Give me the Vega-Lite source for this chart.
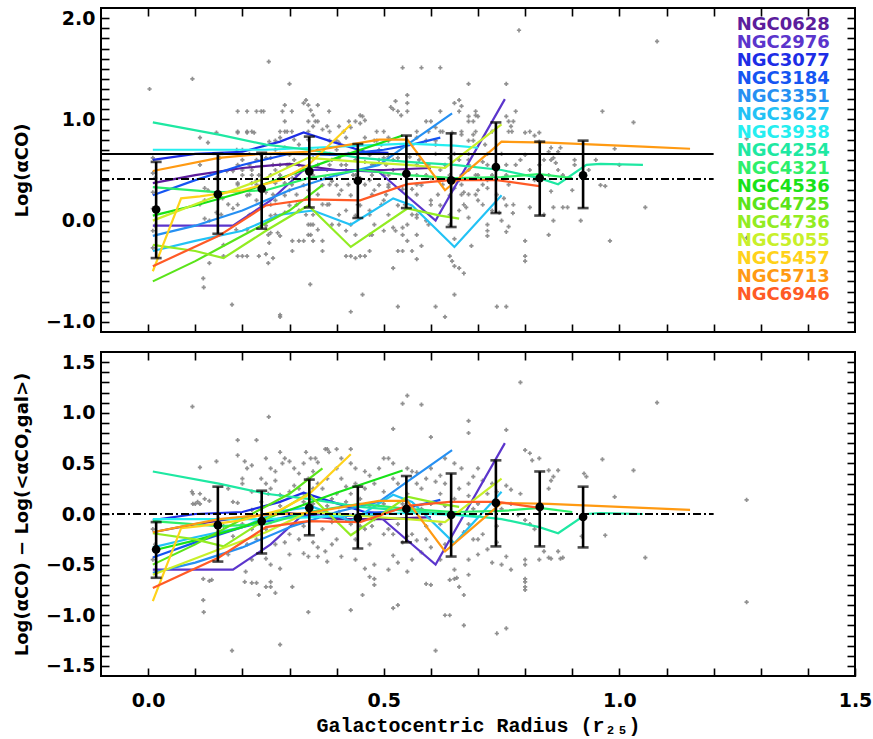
{
"$schema":"https://vega.github.io/schema/vega-lite/v6.json",
"background":"white",
"padding":{"left":12,"top":6,"right":5,"bottom":2},
"config":{"view":{"stroke":"black","strokeWidth":2},
 "axis":{"domain":false,"tickColor":"black","tickWidth":1.6,"ticks":true,"tickSize":8,"offset":-8,"grid":false,"labelFont":"DejaVu Sans","labelFontWeight":"bold","labelFontSize":19,"labelColor":"black","titleFont":"DejaVu Sans","titleFontWeight":"bold","titleFontSize":18,"titleColor":"black","labelOverlap":false,"labelFlush":false,"labelBound":false}},
"spacing":16,
"datasets":{
"names":[{"g":"NGC0628"},{"g":"NGC2976"},{"g":"NGC3077"},{"g":"NGC3184"},{"g":"NGC3351"},{"g":"NGC3627"},{"g":"NGC3938"},{"g":"NGC4254"},{"g":"NGC4321"},{"g":"NGC4536"},{"g":"NGC4725"},{"g":"NGC4736"},{"g":"NGC5055"},{"g":"NGC5457"},{"g":"NGC5713"},{"g":"NGC6946"}],
"binsT":[{"r":0.017,"m":0.11,"lo":-0.37,"hi":0.58},{"r":0.148,"m":0.26,"lo":-0.13,"hi":0.66},{"r":0.241,"m":0.315,"lo":-0.08,"hi":0.67},{"r":0.342,"m":0.487,"lo":0.13,"hi":0.83},{"r":0.445,"m":0.394,"lo":0.026,"hi":0.757},{"r":0.548,"m":0.463,"lo":0.124,"hi":0.84},{"r":0.643,"m":0.398,"lo":-0.063,"hi":0.862},{"r":0.738,"m":0.53,"lo":0.075,"hi":0.97},{"r":0.831,"m":0.42,"lo":0.05,"hi":0.78},{"r":0.923,"m":0.447,"lo":0.124,"hi":0.79}],
"binsB":[{"r":0.017,"m":-0.35,"lo":-0.63,"hi":-0.08},{"r":0.148,"m":-0.11,"lo":-0.47,"hi":0.27},{"r":0.241,"m":-0.07,"lo":-0.39,"hi":0.23},{"r":0.342,"m":0.06,"lo":-0.21,"hi":0.34},{"r":0.445,"m":-0.04,"lo":-0.34,"hi":0.27},{"r":0.548,"m":0.05,"lo":-0.28,"hi":0.375},{"r":0.643,"m":-0.01,"lo":-0.42,"hi":0.4},{"r":0.738,"m":0.11,"lo":-0.32,"hi":0.53},{"r":0.831,"m":0.07,"lo":-0.32,"hi":0.42},{"r":0.923,"m":-0.03,"lo":-0.33,"hi":0.27}],
"linT":[
{"g":"NGC0628","r":0.01,"v":0.37},{"g":"NGC0628","r":0.1,"v":0.45},{"g":"NGC0628","r":0.2,"v":0.52},{"g":"NGC0628","r":0.3,"v":0.56},{"g":"NGC0628","r":0.4,"v":0.5},{"g":"NGC0628","r":0.5,"v":0.5},{"g":"NGC0628","r":0.6,"v":0.52},
{"g":"NGC2976","r":0.01,"v":-0.05},{"g":"NGC2976","r":0.1,"v":-0.05},{"g":"NGC2976","r":0.18,"v":-0.05},{"g":"NGC2976","r":0.26,"v":0.2},{"g":"NGC2976","r":0.33,"v":0.5},{"g":"NGC2976","r":0.41,"v":0.5},{"g":"NGC2976","r":0.49,"v":0.48},{"g":"NGC2976","r":0.61,"v":0.0},{"g":"NGC2976","r":0.757,"v":1.2},
{"g":"NGC3077","r":0.01,"v":0.6},{"g":"NGC3077","r":0.1,"v":0.66},{"g":"NGC3077","r":0.2,"v":0.68},{"g":"NGC3077","r":0.28,"v":0.78},{"g":"NGC3077","r":0.33,"v":0.87},{"g":"NGC3077","r":0.39,"v":0.78},{"g":"NGC3077","r":0.46,"v":0.68},{"g":"NGC3077","r":0.51,"v":0.67},
{"g":"NGC3184","r":0.01,"v":0.25},{"g":"NGC3184","r":0.1,"v":0.4},{"g":"NGC3184","r":0.2,"v":0.55},{"g":"NGC3184","r":0.3,"v":0.66},{"g":"NGC3184","r":0.4,"v":0.65},{"g":"NGC3184","r":0.5,"v":0.7},{"g":"NGC3184","r":0.56,"v":0.75},{"g":"NGC3184","r":0.62,"v":0.82},
{"g":"NGC3351","r":0.01,"v":-0.15},{"g":"NGC3351","r":0.1,"v":-0.05},{"g":"NGC3351","r":0.2,"v":0.1},{"g":"NGC3351","r":0.3,"v":0.3},{"g":"NGC3351","r":0.4,"v":0.45},{"g":"NGC3351","r":0.49,"v":0.55},{"g":"NGC3351","r":0.55,"v":0.75},{"g":"NGC3351","r":0.645,"v":1.06},
{"g":"NGC3627","r":0.01,"v":-0.3},{"g":"NGC3627","r":0.1,"v":-0.2},{"g":"NGC3627","r":0.2,"v":-0.1},{"g":"NGC3627","r":0.28,"v":0.06},{"g":"NGC3627","r":0.35,"v":0.1},{"g":"NGC3627","r":0.43,"v":-0.04},{"g":"NGC3627","r":0.52,"v":0.22},{"g":"NGC3627","r":0.56,"v":0.15},{"g":"NGC3627","r":0.65,"v":-0.26},{"g":"NGC3627","r":0.75,"v":0.25},
{"g":"NGC3938","r":0.01,"v":0.7},{"g":"NGC3938","r":0.15,"v":0.7},{"g":"NGC3938","r":0.25,"v":0.7},{"g":"NGC3938","r":0.35,"v":0.72},{"g":"NGC3938","r":0.45,"v":0.74},{"g":"NGC3938","r":0.55,"v":0.76},{"g":"NGC3938","r":0.65,"v":0.74},{"g":"NGC3938","r":0.7,"v":0.72},
{"g":"NGC4254","r":0.01,"v":0.97},{"g":"NGC4254","r":0.15,"v":0.85},{"g":"NGC4254","r":0.25,"v":0.75},{"g":"NGC4254","r":0.34,"v":0.7},{"g":"NGC4254","r":0.45,"v":0.62},{"g":"NGC4254","r":0.55,"v":0.58},{"g":"NGC4254","r":0.65,"v":0.55},{"g":"NGC4254","r":0.75,"v":0.5},{"g":"NGC4254","r":0.83,"v":0.42},{"g":"NGC4254","r":0.87,"v":0.36},{"g":"NGC4254","r":0.93,"v":0.55},{"g":"NGC4254","r":0.96,"v":0.56},{"g":"NGC4254","r":1.05,"v":0.55},
{"g":"NGC4321","r":0.01,"v":0.33},{"g":"NGC4321","r":0.15,"v":0.28},{"g":"NGC4321","r":0.25,"v":0.3},{"g":"NGC4321","r":0.34,"v":0.42},{"g":"NGC4321","r":0.45,"v":0.5},{"g":"NGC4321","r":0.55,"v":0.45},{"g":"NGC4321","r":0.65,"v":0.42},{"g":"NGC4321","r":0.75,"v":0.43},{"g":"NGC4321","r":0.83,"v":0.46},{"g":"NGC4321","r":0.9,"v":0.42},
{"g":"NGC4536","r":0.01,"v":0.05},{"g":"NGC4536","r":0.1,"v":0.15},{"g":"NGC4536","r":0.2,"v":0.28},{"g":"NGC4536","r":0.3,"v":0.45},{"g":"NGC4536","r":0.4,"v":0.62},{"g":"NGC4536","r":0.54,"v":0.84},
{"g":"NGC4725","r":0.01,"v":-0.6},{"g":"NGC4725","r":0.1,"v":-0.4},{"g":"NGC4725","r":0.2,"v":-0.15},{"g":"NGC4725","r":0.3,"v":0.1},{"g":"NGC4725","r":0.37,"v":0.35},
{"g":"NGC4736","r":0.01,"v":-0.24},{"g":"NGC4736","r":0.1,"v":-0.3},{"g":"NGC4736","r":0.16,"v":-0.37},{"g":"NGC4736","r":0.25,"v":-0.1},{"g":"NGC4736","r":0.34,"v":0.15},{"g":"NGC4736","r":0.43,"v":-0.26},{"g":"NGC4736","r":0.55,"v":0.12},{"g":"NGC4736","r":0.62,"v":0.05},{"g":"NGC4736","r":0.66,"v":0.02},
{"g":"NGC5055","r":0.01,"v":0.0},{"g":"NGC5055","r":0.15,"v":0.25},{"g":"NGC5055","r":0.25,"v":0.42},{"g":"NGC5055","r":0.34,"v":0.62},{"g":"NGC5055","r":0.45,"v":0.58},{"g":"NGC5055","r":0.55,"v":0.55},{"g":"NGC5055","r":0.63,"v":0.52},{"g":"NGC5055","r":0.75,"v":0.95},
{"g":"NGC5457","r":0.01,"v":-0.5},{"g":"NGC5457","r":0.07,"v":0.22},{"g":"NGC5457","r":0.11,"v":0.24},{"g":"NGC5457","r":0.2,"v":0.3},{"g":"NGC5457","r":0.28,"v":0.4},{"g":"NGC5457","r":0.34,"v":0.55},{"g":"NGC5457","r":0.43,"v":0.95},
{"g":"NGC5713","r":0.01,"v":0.49},{"g":"NGC5713","r":0.15,"v":0.62},{"g":"NGC5713","r":0.24,"v":0.66},{"g":"NGC5713","r":0.34,"v":0.68},{"g":"NGC5713","r":0.44,"v":0.76},{"g":"NGC5713","r":0.49,"v":0.8},{"g":"NGC5713","r":0.55,"v":0.8},{"g":"NGC5713","r":0.63,"v":0.3},{"g":"NGC5713","r":0.7,"v":0.58},{"g":"NGC5713","r":0.75,"v":0.78},{"g":"NGC5713","r":0.85,"v":0.77},{"g":"NGC5713","r":0.95,"v":0.75},{"g":"NGC5713","r":1.05,"v":0.73},{"g":"NGC5713","r":1.15,"v":0.71},
{"g":"NGC6946","r":0.01,"v":-0.45},{"g":"NGC6946","r":0.15,"v":-0.15},{"g":"NGC6946","r":0.25,"v":0.15},{"g":"NGC6946","r":0.34,"v":0.21},{"g":"NGC6946","r":0.45,"v":0.2},{"g":"NGC6946","r":0.55,"v":0.36},{"g":"NGC6946","r":0.64,"v":0.4},{"g":"NGC6946","r":0.74,"v":0.4},{"g":"NGC6946","r":0.83,"v":0.34}],
"linB":[
{"g":"NGC0628","r":0.01,"v":-0.18},{"g":"NGC0628","r":0.1,"v":-0.1},{"g":"NGC0628","r":0.2,"v":-0.03},{"g":"NGC0628","r":0.3,"v":0.01},{"g":"NGC0628","r":0.4,"v":-0.05},{"g":"NGC0628","r":0.5,"v":-0.05},{"g":"NGC0628","r":0.6,"v":-0.03},
{"g":"NGC2976","r":0.01,"v":-0.55},{"g":"NGC2976","r":0.1,"v":-0.55},{"g":"NGC2976","r":0.18,"v":-0.55},{"g":"NGC2976","r":0.26,"v":-0.3},{"g":"NGC2976","r":0.33,"v":0.0},{"g":"NGC2976","r":0.41,"v":0.0},{"g":"NGC2976","r":0.49,"v":-0.02},{"g":"NGC2976","r":0.61,"v":-0.5},{"g":"NGC2976","r":0.757,"v":0.7},
{"g":"NGC3077","r":0.01,"v":-0.06},{"g":"NGC3077","r":0.1,"v":0.0},{"g":"NGC3077","r":0.2,"v":0.02},{"g":"NGC3077","r":0.28,"v":0.12},{"g":"NGC3077","r":0.33,"v":0.21},{"g":"NGC3077","r":0.39,"v":0.12},{"g":"NGC3077","r":0.46,"v":0.02},{"g":"NGC3077","r":0.51,"v":0.01},
{"g":"NGC3184","r":0.01,"v":-0.43},{"g":"NGC3184","r":0.1,"v":-0.28},{"g":"NGC3184","r":0.2,"v":-0.13},{"g":"NGC3184","r":0.3,"v":-0.02},{"g":"NGC3184","r":0.4,"v":-0.03},{"g":"NGC3184","r":0.5,"v":0.02},{"g":"NGC3184","r":0.56,"v":0.07},{"g":"NGC3184","r":0.62,"v":0.14},
{"g":"NGC3351","r":0.01,"v":-0.58},{"g":"NGC3351","r":0.1,"v":-0.48},{"g":"NGC3351","r":0.2,"v":-0.33},{"g":"NGC3351","r":0.3,"v":-0.13},{"g":"NGC3351","r":0.4,"v":0.02},{"g":"NGC3351","r":0.49,"v":0.12},{"g":"NGC3351","r":0.55,"v":0.32},{"g":"NGC3351","r":0.645,"v":0.63},
{"g":"NGC3627","r":0.01,"v":-0.33},{"g":"NGC3627","r":0.1,"v":-0.23},{"g":"NGC3627","r":0.2,"v":-0.13},{"g":"NGC3627","r":0.28,"v":0.03},{"g":"NGC3627","r":0.35,"v":0.07},{"g":"NGC3627","r":0.43,"v":-0.07},{"g":"NGC3627","r":0.52,"v":0.19},{"g":"NGC3627","r":0.56,"v":0.12},{"g":"NGC3627","r":0.65,"v":-0.29},{"g":"NGC3627","r":0.75,"v":0.22},
{"g":"NGC3938","r":0.01,"v":-0.05},{"g":"NGC3938","r":0.15,"v":-0.05},{"g":"NGC3938","r":0.25,"v":-0.05},{"g":"NGC3938","r":0.35,"v":-0.03},{"g":"NGC3938","r":0.45,"v":-0.01},{"g":"NGC3938","r":0.55,"v":0.01},{"g":"NGC3938","r":0.65,"v":-0.01},{"g":"NGC3938","r":0.7,"v":-0.03},
{"g":"NGC4254","r":0.01,"v":0.42},{"g":"NGC4254","r":0.15,"v":0.3},{"g":"NGC4254","r":0.25,"v":0.2},{"g":"NGC4254","r":0.34,"v":0.15},{"g":"NGC4254","r":0.45,"v":0.07},{"g":"NGC4254","r":0.55,"v":0.03},{"g":"NGC4254","r":0.65,"v":0.0},{"g":"NGC4254","r":0.75,"v":-0.05},{"g":"NGC4254","r":0.83,"v":-0.13},{"g":"NGC4254","r":0.87,"v":-0.19},{"g":"NGC4254","r":0.93,"v":0.0},{"g":"NGC4254","r":0.96,"v":0.01},{"g":"NGC4254","r":1.05,"v":0.0},
{"g":"NGC4321","r":0.01,"v":-0.07},{"g":"NGC4321","r":0.15,"v":-0.12},{"g":"NGC4321","r":0.25,"v":-0.1},{"g":"NGC4321","r":0.34,"v":0.02},{"g":"NGC4321","r":0.45,"v":0.1},{"g":"NGC4321","r":0.55,"v":0.05},{"g":"NGC4321","r":0.65,"v":0.02},{"g":"NGC4321","r":0.75,"v":0.03},{"g":"NGC4321","r":0.83,"v":0.06},{"g":"NGC4321","r":0.9,"v":0.02},
{"g":"NGC4536","r":0.01,"v":-0.36},{"g":"NGC4536","r":0.1,"v":-0.26},{"g":"NGC4536","r":0.2,"v":-0.13},{"g":"NGC4536","r":0.3,"v":0.04},{"g":"NGC4536","r":0.4,"v":0.21},{"g":"NGC4536","r":0.54,"v":0.43},
{"g":"NGC4725","r":0.01,"v":-0.5},{"g":"NGC4725","r":0.1,"v":-0.3},{"g":"NGC4725","r":0.2,"v":-0.05},{"g":"NGC4725","r":0.3,"v":0.2},{"g":"NGC4725","r":0.37,"v":0.45},
{"g":"NGC4736","r":0.01,"v":-0.19},{"g":"NGC4736","r":0.1,"v":-0.25},{"g":"NGC4736","r":0.16,"v":-0.32},{"g":"NGC4736","r":0.25,"v":-0.05},{"g":"NGC4736","r":0.34,"v":0.2},{"g":"NGC4736","r":0.43,"v":-0.21},{"g":"NGC4736","r":0.55,"v":0.17},{"g":"NGC4736","r":0.62,"v":0.1},{"g":"NGC4736","r":0.66,"v":0.07},
{"g":"NGC5055","r":0.01,"v":-0.6},{"g":"NGC5055","r":0.15,"v":-0.35},{"g":"NGC5055","r":0.25,"v":-0.18},{"g":"NGC5055","r":0.34,"v":0.02},{"g":"NGC5055","r":0.45,"v":-0.02},{"g":"NGC5055","r":0.55,"v":-0.05},{"g":"NGC5055","r":0.63,"v":-0.08},{"g":"NGC5055","r":0.75,"v":0.35},
{"g":"NGC5457","r":0.01,"v":-0.86},{"g":"NGC5457","r":0.07,"v":-0.14},{"g":"NGC5457","r":0.11,"v":-0.12},{"g":"NGC5457","r":0.2,"v":-0.06},{"g":"NGC5457","r":0.28,"v":0.04},{"g":"NGC5457","r":0.34,"v":0.19},{"g":"NGC5457","r":0.43,"v":0.59},
{"g":"NGC5713","r":0.01,"v":-0.18},{"g":"NGC5713","r":0.15,"v":-0.05},{"g":"NGC5713","r":0.24,"v":-0.01},{"g":"NGC5713","r":0.34,"v":0.01},{"g":"NGC5713","r":0.44,"v":0.09},{"g":"NGC5713","r":0.49,"v":0.13},{"g":"NGC5713","r":0.55,"v":0.13},{"g":"NGC5713","r":0.63,"v":-0.37},{"g":"NGC5713","r":0.7,"v":-0.09},{"g":"NGC5713","r":0.75,"v":0.11},{"g":"NGC5713","r":0.85,"v":0.1},{"g":"NGC5713","r":0.95,"v":0.08},{"g":"NGC5713","r":1.05,"v":0.06},{"g":"NGC5713","r":1.15,"v":0.04},
{"g":"NGC6946","r":0.01,"v":-0.73},{"g":"NGC6946","r":0.15,"v":-0.43},{"g":"NGC6946","r":0.25,"v":-0.13},{"g":"NGC6946","r":0.34,"v":-0.07},{"g":"NGC6946","r":0.45,"v":-0.08},{"g":"NGC6946","r":0.55,"v":0.08},{"g":"NGC6946","r":0.64,"v":0.12},{"g":"NGC6946","r":0.74,"v":0.12},{"g":"NGC6946","r":0.83,"v":0.06}],
"ptsT":[
{"r":0.003,"v":1.3},{"r":0.094,"v":1.4},{"r":0.256,"v":1.57},{"r":0.3,"v":1.35},{"r":0.19,"v":1.08},{"r":0.21,"v":1.08},{"r":0.23,"v":1.08},{"r":0.29,"v":1.14},{"r":0.29,"v":0.98},{"r":0.305,"v":1.08},{"r":0.145,"v":0.87},{"r":0.19,"v":0.87},{"r":0.21,"v":0.87},{"r":0.225,"v":0.87},{"r":0.11,"v":0.82},{"r":0.127,"v":0.77},{"r":0.28,"v":0.82},{"r":0.787,"v":1.88},{"r":0.54,"v":1.51},{"r":0.58,"v":1.51},{"r":0.62,"v":1.51},{"r":0.68,"v":1.35},{"r":0.76,"v":1.35},{"r":0.55,"v":1.24},{"r":0.335,"v":1.19},{"r":0.34,"v":1.14},{"r":0.345,"v":1.09},{"r":0.35,"v":1.04},{"r":0.36,"v":1.14},{"r":0.384,"v":1.08},{"r":0.52,"v":1.1},{"r":0.55,"v":1.08},{"r":0.62,"v":1.08},{"r":0.66,"v":1.08},{"r":0.68,"v":1.03},{"r":0.7,"v":1.03},{"r":0.455,"v":1.03},{"r":0.44,"v":0.98},{"r":0.76,"v":1.03},{"r":0.765,"v":0.98},{"r":0.77,"v":0.93},{"r":0.8,"v":0.87},{"r":0.83,"v":0.87},{"r":0.855,"v":0.72},{"r":0.875,"v":0.72},{"r":1.08,"v":1.77},{"r":0.964,"v":1.08},{"r":1.03,"v":0.97},{"r":0.81,"v":0.88},{"r":0.82,"v":0.84},{"r":0.83,"v":0.78},{"r":0.85,"v":0.68},{"r":0.87,"v":0.68},{"r":0.86,"v":0.62},{"r":0.865,"v":0.57},{"r":0.905,"v":0.6},{"r":0.905,"v":0.55},{"r":0.99,"v":0.71},{"r":0.97,"v":0.34},{"r":0.86,"v":0.13},{"r":0.88,"v":0.13},{"r":0.89,"v":0.13},{"r":0.81,"v":0.13},{"r":0.918,"v":0.0},{"r":1.055,"v":0.13},{"r":0.85,"v":-0.14},{"r":0.8,"v":-0.2},{"r":0.8,"v":-0.35},{"r":0.8,"v":-0.4},{"r":1.27,"v":0.81},{"r":1.27,"v":-0.17},
{"r":0.26,"v":-0.12},{"r":0.275,"v":-0.12},{"r":0.28,"v":-0.15},{"r":0.306,"v":-0.2},{"r":0.13,"v":-0.42},{"r":0.16,"v":-0.35},{"r":0.19,"v":-0.35},{"r":0.2,"v":-0.35},{"r":0.21,"v":-0.35},{"r":0.235,"v":-0.35},{"r":0.25,"v":-0.33},{"r":0.265,"v":-0.37},{"r":0.255,"v":-0.42},{"r":0.257,"v":-0.22},{"r":0.117,"v":-0.57},{"r":0.118,"v":-0.66},{"r":0.178,"v":-0.83},{"r":0.28,"v":-0.93},{"r":0.76,"v":-0.11},{"r":0.35,"v":-0.04},{"r":0.33,"v":-0.2},{"r":0.35,"v":-0.2},{"r":0.37,"v":-0.2},{"r":0.306,"v":-0.3},{"r":0.37,"v":-0.3},{"r":0.43,"v":-0.35},{"r":0.45,"v":-0.35},{"r":0.47,"v":-0.3},{"r":0.5,"v":-0.1},{"r":0.525,"v":-0.1},{"r":0.54,"v":-0.3},{"r":0.56,"v":-0.3},{"r":0.58,"v":-0.25},{"r":0.52,"v":-0.47},{"r":0.64,"v":-0.35},{"r":0.645,"v":-0.4},{"r":0.65,"v":-0.45},{"r":0.66,"v":-0.47},{"r":0.67,"v":-0.52},{"r":0.686,"v":-0.25},{"r":0.72,"v":-0.1},{"r":0.72,"v":-0.15},{"r":0.344,"v":-0.63},{"r":0.455,"v":-0.73},{"r":0.43,"v":-0.9},{"r":0.53,"v":-0.85},{"r":0.61,"v":-0.85},{"r":0.63,"v":-0.95},{"r":0.65,"v":-0.73},{"r":0.74,"v":-0.85},{"r":0.76,"v":-0.85},{"r":0.28,"v":-0.95},{"r":0.774,"v":0.075},{"r":0.187,"v":-0.09},{"r":0.21,"v":-0.09},{"r":0.25,"v":-0.05},{"r":0.16,"v":-0.24},{"r":0.36,"v":-0.09},{"r":0.32,"v":-0.2},{"r":0.405,"v":-0.04},{"r":0.42,"v":-0.1},{"r":0.475,"v":-0.14},{"r":0.42,"v":-0.35},{"r":0.44,"v":-0.37},{"r":0.46,"v":-0.35},{"r":0.54,"v":-0.07},{"r":0.55,"v":-0.2},{"r":0.57,"v":-0.38},{"r":0.53,"v":-0.3},{"r":0.68,"v":0.03},{"r":0.65,"v":-0.18},{"r":0.73,"v":0.1},{"r":0.75,"v":0.0},{"r":0.765,"v":-0.06},
{"r":0.152,"v":0.62},{"r":0.188,"v":0.7},{"r":0.2,"v":0.7},{"r":0.18,"v":0.49},{"r":0.2,"v":0.5},{"r":0.22,"v":0.5},{"r":0.28,"v":0.88},{"r":0.29,"v":0.88},{"r":0.305,"v":0.88},{"r":0.257,"v":0.78},{"r":0.25,"v":0.62},{"r":0.26,"v":0.62},{"r":0.28,"v":0.55},{"r":0.295,"v":0.55},{"r":0.306,"v":0.42},{"r":0.27,"v":0.37},{"r":0.29,"v":0.37},{"r":0.19,"v":0.37},{"r":0.22,"v":0.37},{"r":0.158,"v":0.22},{"r":0.17,"v":0.16},{"r":0.11,"v":0.16},{"r":0.12,"v":0.02},{"r":0.13,"v":0.0},{"r":0.37,"v":0.16},{"r":0.384,"v":0.16},{"r":0.376,"v":0.42},{"r":0.39,"v":0.39},{"r":0.405,"v":0.62},{"r":0.41,"v":0.55},{"r":0.42,"v":0.5},{"r":0.44,"v":0.45},{"r":0.45,"v":0.42},{"r":0.46,"v":0.58},{"r":0.48,"v":0.55},{"r":0.5,"v":0.62},{"r":0.405,"v":0.77},{"r":0.42,"v":0.82},{"r":0.46,"v":0.82},{"r":0.48,"v":0.79},{"r":0.43,"v":0.92},{"r":0.45,"v":0.96},{"r":0.35,"v":0.93},{"r":0.36,"v":0.98},{"r":0.37,"v":0.9},{"r":0.38,"v":0.93},{"r":0.405,"v":0.93},{"r":0.426,"v":0.98},{"r":0.45,"v":1.04},{"r":0.46,"v":0.99},{"r":0.11,"v":0.55},{"r":0.167,"v":0.49},{"r":0.145,"v":0.42},{"r":0.12,"v":0.32},{"r":0.127,"v":0.3},{"r":0.12,"v":0.2},{"r":0.15,"v":0.22},{"r":0.18,"v":0.12},{"r":0.145,"v":0.08},{"r":0.155,"v":0.06},{"r":0.22,"v":0.45},{"r":0.23,"v":0.4},{"r":0.24,"v":0.3},{"r":0.25,"v":0.28},{"r":0.26,"v":0.45},{"r":0.27,"v":0.5},{"r":0.28,"v":0.42},{"r":0.29,"v":0.25},{"r":0.3,"v":0.3},{"r":0.31,"v":0.6},{"r":0.32,"v":0.55},{"r":0.33,"v":0.5},{"r":0.33,"v":0.35},{"r":0.34,"v":0.3},{"r":0.35,"v":0.45},{"r":0.35,"v":0.62},{"r":0.36,"v":0.7},{"r":0.32,"v":0.75},{"r":0.31,"v":0.8},{"r":0.34,"v":0.8},{"r":0.36,"v":0.55},{"r":0.37,"v":0.35},{"r":0.38,"v":0.5},{"r":0.39,"v":0.6},{"r":0.4,"v":0.7},{"r":0.4,"v":0.35},{"r":0.41,"v":0.3},{"r":0.43,"v":0.25},{"r":0.44,"v":0.6},{"r":0.47,"v":0.65},{"r":0.49,"v":0.7},{"r":0.47,"v":0.4},{"r":0.48,"v":0.3},{"r":0.5,"v":0.45},{"r":0.23,"v":0.2},{"r":0.21,"v":0.25},{"r":0.24,"v":0.15},{"r":0.27,"v":0.2},{"r":0.3,"v":0.15},{"r":0.32,"v":0.1},{"r":0.26,"v":0.05},{"r":0.29,"v":0.08},{"r":0.23,"v":0.6},{"r":0.24,"v":0.65},{"r":0.2,"v":0.6},{"r":0.27,"v":0.7},{"r":0.29,"v":0.72},{"r":0.3,"v":0.65},
{"r":0.525,"v":1.18},{"r":0.515,"v":1.12},{"r":0.537,"v":1.04},{"r":0.66,"v":1.19},{"r":0.665,"v":1.13},{"r":0.695,"v":1.04},{"r":0.6,"v":0.98},{"r":0.61,"v":0.92},{"r":0.625,"v":0.88},{"r":0.645,"v":0.87},{"r":0.5,"v":0.88},{"r":0.51,"v":0.82},{"r":0.495,"v":0.75},{"r":0.57,"v":0.82},{"r":0.59,"v":0.79},{"r":0.61,"v":0.75},{"r":0.665,"v":0.85},{"r":0.68,"v":0.79},{"r":0.69,"v":0.85},{"r":0.715,"v":0.75},{"r":0.772,"v":0.88},{"r":0.855,"v":0.6},{"r":0.84,"v":0.6},{"r":0.8,"v":0.65},{"r":0.855,"v":0.29},{"r":0.49,"v":0.6},{"r":0.51,"v":0.63},{"r":0.52,"v":0.6},{"r":0.53,"v":0.62},{"r":0.555,"v":0.63},{"r":0.575,"v":0.6},{"r":0.64,"v":0.62},{"r":0.66,"v":0.6},{"r":0.68,"v":0.6},{"r":0.71,"v":0.58},{"r":0.49,"v":0.35},{"r":0.51,"v":0.33},{"r":0.54,"v":0.31},{"r":0.56,"v":0.31},{"r":0.58,"v":0.35},{"r":0.65,"v":0.32},{"r":0.67,"v":0.28},{"r":0.68,"v":0.26},{"r":0.7,"v":0.3},{"r":0.72,"v":0.32},{"r":0.56,"v":0.06},{"r":0.57,"v":0.03},{"r":0.59,"v":0.0},{"r":0.52,"v":-0.07},{"r":0.66,"v":0.1},{"r":0.675,"v":0.13},{"r":0.745,"v":0.08},{"r":0.76,"v":0.15},{"r":0.755,"v":0.22},{"r":0.84,"v":0.06},{"r":0.86,"v":0.0},{"r":0.98,"v":-0.2},{"r":0.52,"v":0.5},{"r":0.55,"v":0.48},{"r":0.57,"v":0.45},{"r":0.6,"v":0.42},{"r":0.62,"v":0.5},{"r":0.64,"v":0.45},{"r":0.66,"v":0.4},{"r":0.68,"v":0.5},{"r":0.7,"v":0.45},{"r":0.72,"v":0.4},{"r":0.74,"v":0.5},{"r":0.76,"v":0.45},{"r":0.78,"v":0.55},{"r":0.6,"v":0.2},{"r":0.62,"v":0.15},{"r":0.64,"v":0.25},{"r":0.7,"v":0.2},{"r":0.5,"v":0.2},{"r":0.53,"v":0.15},{"r":0.45,"v":0.15},{"r":0.47,"v":0.1},{"r":0.42,"v":0.1},{"r":0.44,"v":0.05},
{"r":0.01,"v":0.62},{"r":0.01,"v":0.47},{"r":0.01,"v":0.28},{"r":0.01,"v":0.12},{"r":0.01,"v":-0.1},{"r":0.01,"v":-0.27},{"r":0.015,"v":0.42},{"r":0.015,"v":-0.05},
{"r":0.92,"v":0.45},{"r":0.935,"v":0.5},{"r":0.95,"v":0.6},{"r":0.9,"v":0.3},{"r":0.88,"v":0.45},{"r":1.0,"v":0.55},{"r":0.96,"v":0.35},{"r":0.83,"v":0.55},{"r":0.81,"v":0.5},{"r":0.82,"v":0.4},{"r":0.85,"v":0.45},{"r":0.87,"v":0.5},{"r":0.79,"v":0.6},
{"r":0.24,"v":1.08},{"r":0.245,"v":1.08},{"r":0.285,"v":1.08},{"r":0.53,"v":1.08},{"r":0.695,"v":1.08},{"r":0.78,"v":1.08},{"r":0.34,"v":0.98},{"r":0.355,"v":0.98},{"r":0.59,"v":0.98},{"r":0.68,"v":0.98},{"r":0.69,"v":0.98},{"r":0.775,"v":0.98},
{"r":0.19,"v":0.88},{"r":0.21,"v":0.88},{"r":0.22,"v":0.88},{"r":0.295,"v":0.88},{"r":0.34,"v":0.88},{"r":0.385,"v":0.88},{"r":0.415,"v":0.88},{"r":0.485,"v":0.88},{"r":0.57,"v":0.88},{"r":0.595,"v":0.88},{"r":0.62,"v":0.88},{"r":0.665,"v":0.88},{"r":0.695,"v":0.88},{"r":0.73,"v":0.88},{"r":0.765,"v":0.88},
{"r":0.27,"v":0.79},{"r":0.385,"v":0.79},{"r":0.4,"v":0.79},{"r":0.485,"v":0.79},{"r":0.51,"v":0.79},{"r":0.61,"v":0.79},{"r":0.69,"v":0.79},
{"r":0.215,"v":0.66},{"r":0.28,"v":0.66},{"r":0.385,"v":0.66},{"r":0.425,"v":0.66},{"r":0.47,"v":0.66},{"r":0.57,"v":0.66},{"r":0.61,"v":0.66},{"r":0.65,"v":0.66},{"r":0.68,"v":0.66},{"r":0.72,"v":0.66},{"r":0.75,"v":0.66},
{"r":0.19,"v":0.55},{"r":0.215,"v":0.55},{"r":0.265,"v":0.55},{"r":0.3,"v":0.55},{"r":0.385,"v":0.55},{"r":0.42,"v":0.55},{"r":0.475,"v":0.55},{"r":0.505,"v":0.55},{"r":0.57,"v":0.55},{"r":0.595,"v":0.55},{"r":0.63,"v":0.55},{"r":0.68,"v":0.55},{"r":0.72,"v":0.55},{"r":0.76,"v":0.55},
{"r":0.2,"v":0.45},{"r":0.235,"v":0.45},{"r":0.28,"v":0.45},{"r":0.315,"v":0.45},{"r":0.4,"v":0.45},{"r":0.435,"v":0.45},{"r":0.475,"v":0.45},{"r":0.51,"v":0.45},{"r":0.59,"v":0.45},{"r":0.665,"v":0.45},{"r":0.695,"v":0.45},{"r":0.73,"v":0.45},
{"r":0.19,"v":0.355},{"r":0.23,"v":0.355},{"r":0.305,"v":0.355},{"r":0.385,"v":0.355},{"r":0.425,"v":0.355},{"r":0.46,"v":0.355},{"r":0.51,"v":0.355},{"r":0.57,"v":0.355},{"r":0.625,"v":0.355},{"r":0.665,"v":0.355},{"r":0.71,"v":0.355},{"r":0.765,"v":0.355},
{"r":0.215,"v":0.256},{"r":0.265,"v":0.256},{"r":0.315,"v":0.256},{"r":0.36,"v":0.256},{"r":0.405,"v":0.256},{"r":0.475,"v":0.256},{"r":0.505,"v":0.256},{"r":0.57,"v":0.256},{"r":0.615,"v":0.256},{"r":0.665,"v":0.256},{"r":0.695,"v":0.256},{"r":0.74,"v":0.256},
{"r":0.19,"v":0.157},{"r":0.26,"v":0.157},{"r":0.315,"v":0.157},{"r":0.38,"v":0.157},{"r":0.445,"v":0.157},{"r":0.495,"v":0.157},{"r":0.545,"v":0.157},{"r":0.6,"v":0.157},{"r":0.67,"v":0.157},{"r":0.71,"v":0.157},{"r":0.775,"v":0.157},
{"r":0.215,"v":0.058},{"r":0.27,"v":0.058},{"r":0.335,"v":0.058},{"r":0.35,"v":0.058},{"r":0.405,"v":0.058},{"r":0.47,"v":0.058},{"r":0.51,"v":0.058},{"r":0.57,"v":0.058},{"r":0.64,"v":0.058},
{"r":0.34,"v":-0.04},{"r":0.345,"v":-0.04},{"r":0.39,"v":-0.04},{"r":0.43,"v":-0.04},{"r":0.48,"v":-0.04},{"r":0.55,"v":-0.04},{"r":0.595,"v":-0.04},{"r":0.64,"v":-0.04},{"r":0.72,"v":-0.04},
{"r":0.255,"v":-0.14},{"r":0.34,"v":-0.14},{"r":0.345,"v":-0.14},{"r":0.44,"v":-0.14},{"r":0.47,"v":-0.14},{"r":0.54,"v":-0.14},{"r":0.57,"v":-0.14},{"r":0.33,"v":1.16},{"r":0.55,"v":1.16},{"r":0.65,"v":1.16}],
"ptsB":[
{"r":0.094,"v":1.06},{"r":0.11,"v":0.46},{"r":0.145,"v":0.52},{"r":0.19,"v":0.73},{"r":0.23,"v":0.73},{"r":0.19,"v":0.58},{"r":0.205,"v":0.52},{"r":0.22,"v":0.48},{"r":0.256,"v":0.96},{"r":0.095,"v":0.2},{"r":0.11,"v":0.2},{"r":0.095,"v":0.1},{"r":0.11,"v":0.1},{"r":0.117,"v":-0.64},{"r":0.13,"v":-0.66},{"r":0.117,"v":-0.85},{"r":0.118,"v":-0.97},{"r":0.178,"v":-1.35},{"r":0.205,"v":-0.67},{"r":0.207,"v":-0.57},{"r":0.235,"v":-0.8},{"r":0.25,"v":-0.72},{"r":0.26,"v":-0.72},{"r":0.27,"v":-0.78},{"r":0.28,"v":-1.29},{"r":0.306,"v":-0.72},{"r":0.79,"v":1.3},{"r":0.55,"v":1.17},{"r":0.54,"v":1.09},{"r":0.58,"v":1.08},{"r":0.68,"v":0.92},{"r":0.52,"v":0.84},{"r":0.6,"v":0.76},{"r":0.68,"v":0.8},{"r":0.76,"v":0.83},{"r":0.38,"v":0.64},{"r":0.4,"v":0.64},{"r":0.43,"v":0.64},{"r":0.51,"v":0.55},{"r":0.335,"v":0.61},{"r":0.355,"v":0.55},{"r":0.34,"v":-0.97},{"r":0.43,"v":-0.95},{"r":0.53,"v":-0.9},{"r":0.61,"v":-1.35},{"r":0.63,"v":-1.0},{"r":0.67,"v":-1.1},{"r":0.74,"v":-1.18},{"r":0.76,"v":-1.13},{"r":0.8,"v":-0.64},{"r":0.8,"v":-0.75},{"r":0.65,"v":-0.64},{"r":0.66,"v":-0.72},{"r":0.67,"v":-0.8},{"r":0.68,"v":-0.6},{"r":0.59,"v":-0.69},{"r":0.55,"v":-0.57},{"r":0.46,"v":-0.54},{"r":0.47,"v":-0.62},{"r":0.48,"v":-0.7},{"r":0.455,"v":-0.8},{"r":0.855,"v":-0.44},{"r":0.875,"v":-0.44},{"r":1.08,"v":1.1},{"r":0.964,"v":0.54},{"r":1.03,"v":0.43},{"r":0.8,"v":0.63},{"r":0.81,"v":0.6},{"r":0.83,"v":0.55},{"r":0.815,"v":0.53},{"r":0.85,"v":0.43},{"r":0.87,"v":0.43},{"r":0.86,"v":0.37},{"r":0.855,"v":0.33},{"r":0.85,"v":0.25},{"r":0.93,"v":0.37},{"r":0.99,"v":0.17},{"r":0.97,"v":-0.21},{"r":0.85,"v":-0.43},{"r":0.88,"v":-0.43},{"r":0.8,"v":-0.5},{"r":1.055,"v":-0.43},{"r":1.27,"v":0.14},{"r":1.27,"v":-0.87},{"r":0.925,"v":0.4},{"r":0.92,"v":-0.22},
{"r":0.28,"v":0.61},{"r":0.29,"v":0.55},{"r":0.285,"v":0.5},{"r":0.3,"v":0.52},{"r":0.345,"v":0.55},{"r":0.36,"v":0.51},{"r":0.376,"v":0.64},{"r":0.384,"v":0.61},{"r":0.43,"v":0.5},{"r":0.44,"v":0.45},{"r":0.46,"v":0.42},{"r":0.47,"v":0.38},{"r":0.49,"v":0.45},{"r":0.093,"v":0.22},{"r":0.1,"v":0.1},{"r":0.105,"v":0.12},{"r":0.12,"v":0.15},{"r":0.13,"v":0.13},{"r":0.24,"v":0.35},{"r":0.25,"v":0.3},{"r":0.26,"v":0.25},{"r":0.28,"v":0.19},{"r":0.255,"v":0.2},{"r":0.19,"v":0.11},{"r":0.22,"v":0.04},{"r":0.31,"v":0.28},{"r":0.32,"v":0.25},{"r":0.33,"v":0.2},{"r":0.36,"v":0.3},{"r":0.37,"v":0.25},{"r":0.38,"v":0.35},{"r":0.4,"v":0.2},{"r":0.405,"v":0.02},{"r":0.42,"v":-0.05},{"r":0.43,"v":-0.1},{"r":0.45,"v":-0.12},{"r":0.46,"v":-0.15},{"r":0.475,"v":-0.12},{"r":0.48,"v":-0.05},{"r":0.5,"v":-0.2},{"r":0.35,"v":-0.28},{"r":0.36,"v":-0.33},{"r":0.376,"v":-0.37},{"r":0.33,"v":-0.39},{"r":0.34,"v":-0.42},{"r":0.36,"v":-0.42},{"r":0.38,"v":-0.47},{"r":0.25,"v":-0.44},{"r":0.26,"v":-0.5},{"r":0.28,"v":-0.54},{"r":0.22,"v":-0.68},{"r":0.23,"v":-0.68},{"r":0.26,"v":-0.67},{"r":0.135,"v":-0.65},{"r":0.48,"v":-0.5},{"r":0.48,"v":-0.64},
{"r":0.5,"v":0.55},{"r":0.52,"v":0.5},{"r":0.55,"v":0.45},{"r":0.57,"v":0.41},{"r":0.63,"v":0.55},{"r":0.65,"v":0.5},{"r":0.665,"v":0.45},{"r":0.59,"v":0.35},{"r":0.61,"v":0.32},{"r":0.63,"v":0.3},{"r":0.57,"v":0.3},{"r":0.69,"v":0.37},{"r":0.71,"v":0.33},{"r":0.73,"v":0.3},{"r":0.76,"v":0.28},{"r":0.77,"v":0.24},{"r":0.79,"v":0.2},{"r":0.785,"v":-0.01},{"r":0.8,"v":-0.06},{"r":0.81,"v":-0.1},{"r":0.82,"v":-0.15},{"r":0.51,"v":-0.15},{"r":0.52,"v":-0.2},{"r":0.54,"v":-0.28},{"r":0.55,"v":-0.22},{"r":0.56,"v":-0.2},{"r":0.57,"v":-0.26},{"r":0.6,"v":-0.33},{"r":0.58,"v":-0.38},{"r":0.52,"v":-0.41},{"r":0.53,"v":-0.48},{"r":0.51,"v":-0.55},{"r":0.56,"v":-0.45},{"r":0.67,"v":-0.18},{"r":0.69,"v":-0.25},{"r":0.7,"v":-0.25},{"r":0.71,"v":-0.2},{"r":0.72,"v":-0.35},{"r":0.7,"v":-0.4},{"r":0.73,"v":-0.48},{"r":0.76,"v":-0.42},{"r":0.75,"v":-0.5},{"r":0.77,"v":-0.55},{"r":0.65,"v":-0.55},{"r":0.655,"v":-0.63},{"r":0.64,"v":-0.65},{"r":0.64,"v":-1.0},{"r":0.6,"v":-0.7},{"r":0.52,"v":-0.93},{"r":0.8,"v":-0.45},{"r":0.83,"v":-0.45},{"r":0.84,"v":-0.37},{"r":0.87,"v":-0.37},{"r":0.8,"v":-0.67},{"r":0.8,"v":-0.72},
{"r":0.15,"v":-0.05},{"r":0.2,"v":-0.1},{"r":0.25,"v":-0.15},{"r":0.3,"v":-0.2},{"r":0.3,"v":0.0},{"r":0.35,"v":0.1},{"r":0.4,"v":-0.25},{"r":0.45,"v":0.15},{"r":0.5,"v":0.1},{"r":0.55,"v":0.2},{"r":0.6,"v":0.1},{"r":0.65,"v":0.15},{"r":0.7,"v":0.1},{"r":0.75,"v":0.05},{"r":0.2,"v":0.3},{"r":0.17,"v":0.25},{"r":0.23,"v":-0.25},{"r":0.27,"v":-0.3},{"r":0.31,"v":-0.1},{"r":0.32,"v":0.4},{"r":0.41,"v":0.35},{"r":0.44,"v":0.3},{"r":0.62,"v":-0.1},{"r":0.66,"v":0.25},{"r":0.72,"v":0.2},{"r":0.58,"v":0.05},{"r":0.53,"v":0.3},{"r":0.27,"v":0.42},{"r":0.37,"v":-0.15},{"r":0.43,"v":0.2},{"r":0.01,"v":-0.15},{"r":0.01,"v":-0.45},{"r":0.015,"v":-0.3},
{"r":0.21,"v":0.45},{"r":0.26,"v":0.45},{"r":0.31,"v":0.45},{"r":0.35,"v":0.42},{"r":0.4,"v":0.45},{"r":0.56,"v":0.42},{"r":0.6,"v":0.45},{"r":0.7,"v":0.45},
{"r":0.2,"v":0.35},{"r":0.27,"v":0.33},{"r":0.34,"v":0.35},{"r":0.42,"v":0.27},{"r":0.48,"v":0.3},{"r":0.52,"v":0.35},{"r":0.62,"v":0.38},{"r":0.68,"v":0.3},
{"r":0.22,"v":0.22},{"r":0.3,"v":0.22},{"r":0.35,"v":0.25},{"r":0.39,"v":0.15},{"r":0.46,"v":0.25},{"r":0.5,"v":0.22},{"r":0.58,"v":0.25},{"r":0.62,"v":0.2},{"r":0.68,"v":0.18},{"r":0.74,"v":0.22},
{"r":0.18,"v":0.12},{"r":0.24,"v":0.12},{"r":0.28,"v":0.08},{"r":0.33,"v":0.12},{"r":0.38,"v":0.08},{"r":0.42,"v":0.12},{"r":0.47,"v":0.08},{"r":0.54,"v":0.1},{"r":0.63,"v":0.08},{"r":0.69,"v":0.05},{"r":0.77,"v":0.1},
{"r":0.16,"v":-0.12},{"r":0.22,"v":-0.15},{"r":0.26,"v":-0.08},{"r":0.33,"v":-0.12},{"r":0.39,"v":-0.08},{"r":0.53,"v":-0.1},{"r":0.59,"v":-0.12},{"r":0.68,"v":-0.1},{"r":0.74,"v":-0.12},
{"r":0.18,"v":-0.22},{"r":0.21,"v":-0.3},{"r":0.29,"v":-0.28},{"r":0.32,"v":-0.25},{"r":0.39,"v":-0.3},{"r":0.44,"v":-0.25},{"r":0.47,"v":-0.3},{"r":0.59,"v":-0.25},{"r":0.63,"v":-0.3},{"r":0.74,"v":-0.28},
{"r":0.17,"v":-0.4},{"r":0.22,"v":-0.45},{"r":0.3,"v":-0.4},{"r":0.41,"v":-0.42},{"r":0.44,"v":-0.45},{"r":0.62,"v":-0.45},{"r":0.68,"v":-0.45},{"r":0.25,"v":0.55},{"r":0.33,"v":0.5},{"r":0.41,"v":0.55}]
},
"vconcat":[
{
 "width":754,"height":324,
 "resolve":{"scale":{"y":"independent"}},
 "layer":[
  {"layer":[
   {"data":{"name":"ptsT"},"mark":{"type":"point","shape":"cross","filled":true,"size":18,"color":"#858585","opacity":0.9},
    "encoding":{"x":{"field":"r","type":"quantitative","scale":{"domain":[-0.1,1.5],"nice":false,"zero":false},
      "axis":{"orient":"bottom","values":[0,0.1,0.2,0.3,0.4,0.5,0.6,0.7,0.8,0.9,1,1.1,1.2,1.3,1.4],"labels":false,"title":null}},
     "y":{"field":"v","type":"quantitative","scale":{"domain":[-1.1,2.1],"nice":false,"zero":false},
      "axis":{"orient":"left","values":[-1,-0.9,-0.8,-0.7,-0.6,-0.5,-0.4,-0.3,-0.2,-0.1,0,0.1,0.2,0.3,0.4,0.5,0.6,0.7,0.8,0.9,1,1.1,1.2,1.3,1.4,1.5,1.6,1.7,1.8,1.9,2],"labelExpr":"abs(datum.value-round(datum.value))<0.001 ? format(datum.value,'.1f') : ''","labelPadding":6,"title":"Log(αCO)","titlePadding":14}}}},
   {"data":{"name":"linT"},"mark":{"type":"line","strokeWidth":2.2,"clip":true},
    "encoding":{"x":{"field":"r","type":"quantitative","axis":null},"y":{"field":"v","type":"quantitative","axis":null},
     "color":{"field":"g","type":"nominal","legend":null,"scale":{"domain":["NGC0628","NGC2976","NGC3077","NGC3184","NGC3351","NGC3627","NGC3938","NGC4254","NGC4321","NGC4536","NGC4725","NGC4736","NGC5055","NGC5457","NGC5713","NGC6946"],"range":["#5c1d9c","#5b35cc","#1d2de6","#1555f2","#2690f2","#22c2f5","#25eef0","#1ee8a2","#2def6a","#18e218","#5ae41a","#92ec22","#c8f02a","#ffd21a","#ff9a12","#ff5a26"]}}}},
   {"data":{"values":[{"a":-0.1,"b":1.2,"v":0.657}]},"mark":{"type":"rule","color":"black","strokeWidth":2},
    "encoding":{"x":{"field":"a","type":"quantitative","axis":null},"x2":{"field":"b"},"y":{"field":"v","type":"quantitative","axis":null}}},
   {"data":{"values":[{"a":-0.1,"b":1.2,"v":0.41}]},"mark":{"type":"rule","color":"black","strokeWidth":2,"strokeDash":[8,3,2,3]},
    "encoding":{"x":{"field":"a","type":"quantitative","axis":null},"x2":{"field":"b"},"y":{"field":"v","type":"quantitative","axis":null}}},
   {"data":{"name":"binsT"},"mark":{"type":"rule","color":"black","strokeWidth":2.6},
    "encoding":{"x":{"field":"r","type":"quantitative","axis":null},"y":{"field":"lo","type":"quantitative","axis":null},"y2":{"field":"hi"}}},
   {"data":{"name":"binsT"},"mark":{"type":"tick","orient":"horizontal","color":"black","size":11,"thickness":2.6},
    "encoding":{"x":{"field":"r","type":"quantitative","axis":null},"y":{"field":"lo","type":"quantitative","axis":null}}},
   {"data":{"name":"binsT"},"mark":{"type":"tick","orient":"horizontal","color":"black","size":11,"thickness":2.6},
    "encoding":{"x":{"field":"r","type":"quantitative","axis":null},"y":{"field":"hi","type":"quantitative","axis":null}}},
   {"data":{"name":"binsT"},"mark":{"type":"point","shape":"circle","filled":true,"opacity":1,"color":"black","size":75},
    "encoding":{"x":{"field":"r","type":"quantitative",
      "axis":{"orient":"top","values":[0,0.1,0.2,0.3,0.4,0.5,0.6,0.7,0.8,0.9,1,1.1,1.2,1.3,1.4],"labels":false,"title":null}},
     "y":{"field":"m","type":"quantitative",
      "axis":{"orient":"right","values":[-1,-0.9,-0.8,-0.7,-0.6,-0.5,-0.4,-0.3,-0.2,-0.1,0,0.1,0.2,0.3,0.4,0.5,0.6,0.7,0.8,0.9,1,1.1,1.2,1.3,1.4,1.5,1.6,1.7,1.8,1.9,2],"labels":false,"title":null}}}}
  ]},
  {"data":{"name":"names"},"mark":{"type":"text","align":"left","baseline":"middle","font":"DejaVu Sans","fontWeight":"bold","fontSize":18},
   "encoding":{"x":{"datum":1.249,"type":"quantitative","axis":null},
    "y":{"field":"g","type":"nominal","sort":null,"axis":null,"scale":{"type":"band","paddingInner":0,"paddingOuter":1.066,"align":0.21}},
    "text":{"field":"g"},
    "color":{"field":"g","type":"nominal","legend":null,"scale":{"domain":["NGC0628","NGC2976","NGC3077","NGC3184","NGC3351","NGC3627","NGC3938","NGC4254","NGC4321","NGC4536","NGC4725","NGC4736","NGC5055","NGC5457","NGC5713","NGC6946"],"range":["#5c1d9c","#5b35cc","#1d2de6","#1555f2","#2690f2","#22c2f5","#25eef0","#1ee8a2","#2def6a","#18e218","#5ae41a","#92ec22","#c8f02a","#ffd21a","#ff9a12","#ff5a26"]}}}}
 ]
},
{
 "width":754,"height":324,
 "layer":[
   {"data":{"name":"ptsB"},"mark":{"type":"point","shape":"cross","filled":true,"size":18,"color":"#858585","opacity":0.9},
    "encoding":{"x":{"field":"r","type":"quantitative","scale":{"domain":[-0.1,1.5],"nice":false,"zero":false},
      "axis":{"orient":"bottom","values":[0,0.1,0.2,0.3,0.4,0.5,0.6,0.7,0.8,0.9,1,1.1,1.2,1.3,1.4,1.5],"labelExpr":"abs(datum.value*2-round(datum.value*2))<0.001 ? format(datum.value,'.1f') : ''","labelPadding":15,"title":"Galactocentric Radius (r₂₅)","titleFont":"Liberation Mono","titleFontSize":20,"titlePadding":5}},
     "y":{"field":"v","type":"quantitative","scale":{"domain":[-1.6,1.6],"nice":false,"zero":false},
      "axis":{"orient":"left","values":[-1.5,-1.4,-1.3,-1.2,-1.1,-1,-0.9,-0.8,-0.7,-0.6,-0.5,-0.4,-0.3,-0.2,-0.1,0,0.1,0.2,0.3,0.4,0.5,0.6,0.7,0.8,0.9,1,1.1,1.2,1.3,1.4,1.5],"labelExpr":"abs(datum.value*2-round(datum.value*2))<0.001 ? format(datum.value,'.1f') : ''","labelPadding":6,"title":"Log(αCO) − Log(<αCO,gal>)","titlePadding":14}}}},
   {"data":{"name":"linB"},"mark":{"type":"line","strokeWidth":2.2,"clip":true},
    "encoding":{"x":{"field":"r","type":"quantitative","axis":null},"y":{"field":"v","type":"quantitative","axis":null},
     "color":{"field":"g","type":"nominal","legend":null,"scale":{"domain":["NGC0628","NGC2976","NGC3077","NGC3184","NGC3351","NGC3627","NGC3938","NGC4254","NGC4321","NGC4536","NGC4725","NGC4736","NGC5055","NGC5457","NGC5713","NGC6946"],"range":["#5c1d9c","#5b35cc","#1d2de6","#1555f2","#2690f2","#22c2f5","#25eef0","#1ee8a2","#2def6a","#18e218","#5ae41a","#92ec22","#c8f02a","#ffd21a","#ff9a12","#ff5a26"]}}}},
   {"data":{"values":[{"a":-0.1,"b":1.2,"v":0.0}]},"mark":{"type":"rule","color":"black","strokeWidth":2,"strokeDash":[8,3,2,3]},
    "encoding":{"x":{"field":"a","type":"quantitative","axis":null},"x2":{"field":"b"},"y":{"field":"v","type":"quantitative","axis":null}}},
   {"data":{"name":"binsB"},"mark":{"type":"rule","color":"black","strokeWidth":2.6},
    "encoding":{"x":{"field":"r","type":"quantitative","axis":null},"y":{"field":"lo","type":"quantitative","axis":null},"y2":{"field":"hi"}}},
   {"data":{"name":"binsB"},"mark":{"type":"tick","orient":"horizontal","color":"black","size":11,"thickness":2.6},
    "encoding":{"x":{"field":"r","type":"quantitative","axis":null},"y":{"field":"lo","type":"quantitative","axis":null}}},
   {"data":{"name":"binsB"},"mark":{"type":"tick","orient":"horizontal","color":"black","size":11,"thickness":2.6},
    "encoding":{"x":{"field":"r","type":"quantitative","axis":null},"y":{"field":"hi","type":"quantitative","axis":null}}},
   {"data":{"name":"binsB"},"mark":{"type":"point","shape":"circle","filled":true,"opacity":1,"color":"black","size":75},
    "encoding":{"x":{"field":"r","type":"quantitative",
      "axis":{"orient":"top","values":[0,0.1,0.2,0.3,0.4,0.5,0.6,0.7,0.8,0.9,1,1.1,1.2,1.3,1.4],"labels":false,"title":null}},
     "y":{"field":"m","type":"quantitative",
      "axis":{"orient":"right","values":[-1.5,-1.4,-1.3,-1.2,-1.1,-1,-0.9,-0.8,-0.7,-0.6,-0.5,-0.4,-0.3,-0.2,-0.1,0,0.1,0.2,0.3,0.4,0.5,0.6,0.7,0.8,0.9,1,1.1,1.2,1.3,1.4,1.5],"labels":false,"title":null}}}}
 ]
}
]
}
